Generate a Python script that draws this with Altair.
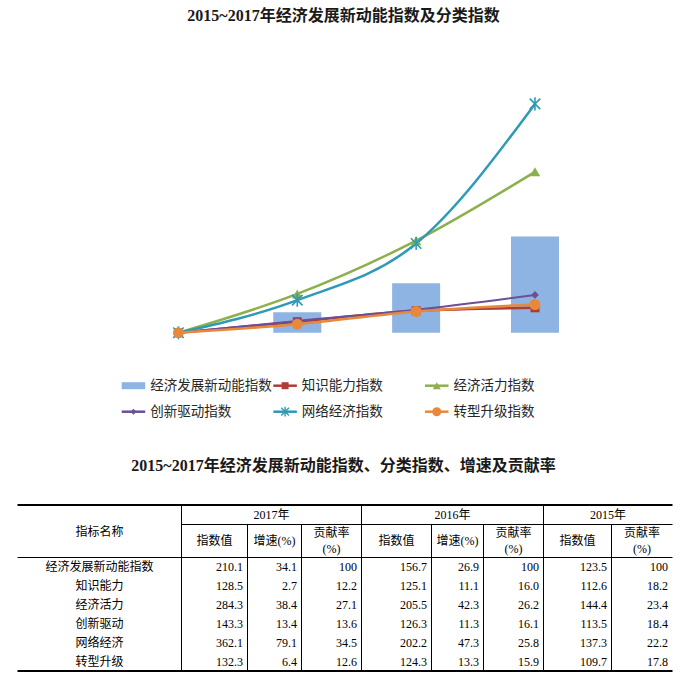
import altair as alt
import pandas as pd

# ---------------- chart data ----------------
years = [2014, 2015, 2016, 2017]
series_names = ["经济发展新动能指数", "知识能力指数", "经济活力指数",
                "创新驱动指数", "网络经济指数", "转型升级指数"]
composite_index = [100, 123.5, 156.7, 210.1]
knowledge_index = [100, 112.6, 125.1, 128.5]
vitality_index = [100, 144.4, 205.5, 284.3]
innovation_index = [100, 113.5, 126.3, 143.3]
network_index = [100, 137.3, 202.2, 362.1]
transform_index = [100, 109.7, 124.3, 132.3]

# ---------------- table data ----------------
table_rows = ["经济发展新动能指数", "知识能力", "经济活力", "创新驱动", "网络经济", "转型升级"]
index_2017 = [210.1, 128.5, 284.3, 143.3, 362.1, 132.3]
growth_2017 = [34.1, 2.7, 38.4, 13.4, 79.1, 6.4]
contrib_2017 = [100, 12.2, 27.1, 13.6, 34.5, 12.6]
index_2016 = [156.7, 125.1, 205.5, 126.3, 202.2, 124.3]
growth_2016 = [26.9, 11.1, 42.3, 11.3, 47.3, 13.3]
contrib_2016 = [100, 16.0, 26.2, 16.1, 25.8, 15.9]
index_2015 = [123.5, 112.6, 144.4, 113.5, 137.3, 109.7]
contrib_2015 = [100, 18.2, 23.4, 18.4, 22.2, 17.8]
year_headers = ["2017年", "2016年", "2015年"]
name_header = "指标名称"
sub_index = "指数值"
sub_growth = "增速(%)"
sub_contrib = ["贡献率", "(%)"]

title_top = "2015~2017年经济发展新动能指数及分类指数"
title_table = "2015~2017年经济发展新动能指数、分类指数、增速及贡献率"

# ---------------- styles ----------------
colors = ["#8EB4E3", "#B03C38", "#8DB04D", "#6C4F96", "#2F9AB5", "#E8883A"]
marker_shapes = [None, "square", "triangle-up", "diamond",
                 "M-1,-1L1,1M-1,1L1,-1M0,-1.25L0,1.25", "circle"]
marker_filled = [None, True, True, True, False, True]
chart_sizes = [None, 81, 110, 60, 110, 121]
legend_sizes = [None, 49, 64, 36, 60, 81]
line_widths = [None, 2.5, 2.5, 2.0, 2.5, 2.5]
SERIF_CJK = "Liberation Serif, Noto Sans CJK SC"
SANS_CJK = "Noto Sans CJK SC"
W = 687

color_scale = alt.Scale(domain=series_names, range=colors)

# ---------------- main chart panel ----------------
xs = alt.Scale(domain=[2012.5406, 2018.2371], nice=False, zero=False)
ys = alt.Scale(domain=[85.91, 435.3], nice=False, zero=False)
X = alt.X("year:Q", scale=xs, axis=None)
Y = alt.Y("value:Q", scale=ys, axis=None)
C = alt.Color("series:N", scale=color_scale, legend=None)

bar_df = pd.DataFrame({"year": years, "value": composite_index, "series": series_names[0]})
bars = alt.Chart(bar_df).mark_bar(size=48).encode(x=X, y=Y, y2=alt.datum(100), color=C)

line_values = [knowledge_index, vitality_index, innovation_index, network_index, transform_index]
line_layers, point_layers = [], []
for i, vals in enumerate(line_values, start=1):
    df = pd.DataFrame({"year": years, "value": vals, "series": series_names[i]})
    line_layers.append(
        alt.Chart(df).mark_line(interpolate="monotone", strokeWidth=line_widths[i]).encode(x=X, y=Y, color=C)
    )
    if marker_filled[i]:
        pm = alt.Chart(df).mark_point(shape=marker_shapes[i], filled=True, size=chart_sizes[i], opacity=1)
    else:
        pm = alt.Chart(df).mark_point(shape=marker_shapes[i], filled=False, size=chart_sizes[i],
                                      strokeWidth=1.6, opacity=1)
    point_layers.append(pm.encode(x=X, y=Y, color=C))

main = alt.layer(bars, *line_layers, *point_layers).properties(
    width=W, height=305,
    title=alt.TitleParams(title_top, font=SERIF_CJK, fontSize=16, fontWeight="bold",
                          color="#1a1a1a", anchor="middle", offset=16),
)

# ---------------- legend panel ----------------
LEG_X0, LEG_STEP, LEG_SYM, LEG_TXT = 121.7, 151.65, 23.5, 28.5
ROW0, ROW_STEP, LEG_TOP, LEG_H = 385.7, 26.0, 345.0, 113.0
lxs = alt.Scale(domain=[-LEG_X0 / LEG_STEP, (W - LEG_X0) / LEG_STEP], nice=False, zero=False)
lys = alt.Scale(domain=[(LEG_TOP - ROW0) / ROW_STEP, (LEG_TOP + LEG_H - ROW0) / ROW_STEP],
                nice=False, zero=False, reverse=True)
leg_df = pd.DataFrame({"series": series_names,
                       "col": [i % 3 for i in range(6)],
                       "row": [i // 3 for i in range(6)]})
leg_df["x0"] = leg_df["col"]
leg_df["x1"] = leg_df["col"] + LEG_SYM / LEG_STEP
leg_df["xm"] = leg_df["col"] + LEG_SYM / LEG_STEP / 2
leg_df["xt"] = leg_df["col"] + LEG_TXT / LEG_STEP
LY = alt.Y("row:Q", scale=lys, axis=None)

leg_layers = []
leg_layers.append(
    alt.Chart(leg_df.iloc[[0]]).mark_rule(strokeWidth=7, strokeCap="butt").encode(
        x=alt.X("x0:Q", scale=lxs, axis=None), x2="x1:Q", y=LY, color=C)
)
leg_layers.append(
    alt.Chart(leg_df.iloc[1:]).mark_rule(strokeWidth=2.5, strokeCap="butt").encode(
        x=alt.X("x0:Q", scale=lxs, axis=None), x2="x1:Q", y=LY, color=C)
)
for i in range(1, 6):
    d = leg_df.iloc[[i]]
    if marker_filled[i]:
        pm = alt.Chart(d).mark_point(shape=marker_shapes[i], filled=True, size=legend_sizes[i], opacity=1)
    else:
        pm = alt.Chart(d).mark_point(shape=marker_shapes[i], filled=False, size=legend_sizes[i],
                                     strokeWidth=1.4, opacity=1)
    leg_layers.append(pm.encode(x=alt.X("xm:Q", scale=lxs, axis=None), y=LY, color=C))
leg_layers.append(
    alt.Chart(leg_df).mark_text(align="left", baseline="middle", font=SANS_CJK, fontSize=13.5,
                                color="#262626").encode(
        x=alt.X("xt:Q", scale=lxs, axis=None), y=LY, text="series:N")
)
legend = alt.layer(*leg_layers).properties(width=W, height=LEG_H)

# ---------------- table panel ----------------
TBL_LEFT = 17.5
col_widths = [164, 66, 54, 60, 70, 52, 60, 68, 61]
edges = [TBL_LEFT]
for w in col_widths:
    edges.append(edges[-1] + w)
TBL_H = 182
Y_TOP, Y_MID, Y_HDR = 1, 20.5, 53.5
ROW_H = 19
Y_BOT = 53 + ROW_H * len(table_rows)

txs = alt.Scale(domain=[0, W], nice=False, zero=False)
tys = alt.Scale(domain=[0, TBL_H], nice=False, zero=False, reverse=True)

hlines = pd.DataFrame([
    {"x0": edges[0], "x1": edges[-1], "y": Y_TOP, "w": 2},
    {"x0": edges[1], "x1": edges[-1], "y": Y_MID, "w": 1},
    {"x0": edges[0], "x1": edges[-1], "y": Y_HDR, "w": 1},
    {"x0": edges[0], "x1": edges[-1], "y": Y_BOT, "w": 2},
])
full_cols = {1, 4, 7}
vlines = pd.DataFrame([
    {"x": edges[k], "y0": Y_TOP if k in full_cols else Y_MID, "y1": Y_BOT}
    for k in range(1, 9)
])
h_rule = alt.Chart(hlines).mark_rule(color="#000000", strokeCap="butt").encode(
    x=alt.X("x0:Q", scale=txs, axis=None), x2="x1:Q",
    y=alt.Y("y:Q", scale=tys, axis=None),
    strokeWidth=alt.StrokeWidth("w:Q", scale=None))
v_rule = alt.Chart(vlines).mark_rule(color="#000000", strokeWidth=1, strokeCap="butt").encode(
    x=alt.X("x:Q", scale=txs, axis=None),
    y=alt.Y("y0:Q", scale=tys, axis=None), y2="y1:Q")


def fmt(v):
    return str(v) if isinstance(v, int) else f"{v:.1f}"


center_cells = []
center_cells.append({"x": (edges[0] + edges[1]) / 2, "y": (Y_TOP + Y_HDR) / 2 + 1, "t": name_header})
group_spans = [(1, 4), (4, 7), (7, 9)]
for (a, b), yh in zip(group_spans, year_headers):
    center_cells.append({"x": (edges[a] + edges[b]) / 2, "y": (Y_TOP + Y_MID) / 2, "t": yh})
sub_kinds = ["idx", "gr", "ct", "idx", "gr", "ct", "idx", "ct"]
ymid_sub = (Y_MID + Y_HDR) / 2
for k, kind in enumerate(sub_kinds, start=1):
    cx = (edges[k] + edges[k + 1]) / 2
    if kind == "idx":
        center_cells.append({"x": cx, "y": ymid_sub, "t": sub_index})
    elif kind == "gr":
        center_cells.append({"x": cx, "y": ymid_sub, "t": sub_growth})
    else:
        center_cells.append({"x": cx, "y": ymid_sub - 8, "t": sub_contrib[0]})
        center_cells.append({"x": cx, "y": ymid_sub + 8, "t": sub_contrib[1]})
for r, name in enumerate(table_rows):
    center_cells.append({"x": (edges[0] + edges[1]) / 2, "y": 53 + ROW_H * r + ROW_H / 2, "t": name})

columns = [index_2017, growth_2017, contrib_2017, index_2016, growth_2016, contrib_2016,
           index_2015, contrib_2015]
right_cells = []
for k, col in enumerate(columns, start=1):
    for r, v in enumerate(col):
        right_cells.append({"x": edges[k + 1] - 4.5, "y": 53 + ROW_H * r + ROW_H / 2, "t": fmt(v)})

t_center = alt.Chart(pd.DataFrame(center_cells)).mark_text(
    align="center", baseline="middle", font=SERIF_CJK, fontSize=12, color="#000000").encode(
    x=alt.X("x:Q", scale=txs, axis=None), y=alt.Y("y:Q", scale=tys, axis=None), text="t:N")
t_right = alt.Chart(pd.DataFrame(right_cells)).mark_text(
    align="right", baseline="middle", font=SERIF_CJK, fontSize=12, color="#000000").encode(
    x=alt.X("x:Q", scale=txs, axis=None), y=alt.Y("y:Q", scale=tys, axis=None), text="t:N")

table = alt.layer(h_rule, v_rule, t_center, t_right).properties(
    width=W, height=TBL_H,
    title=alt.TitleParams(title_table, font=SERIF_CJK, fontSize=16, fontWeight="bold",
                          color="#1a1a1a", anchor="middle", offset=30),
)

chart = alt.vconcat(main, legend, table, spacing=0).configure(
    padding={"top": 8, "left": 0, "right": 0, "bottom": 0}
).configure_view(stroke=None)

chart.save("out.html", embed_options={"renderer": "svg", "actions": False})
